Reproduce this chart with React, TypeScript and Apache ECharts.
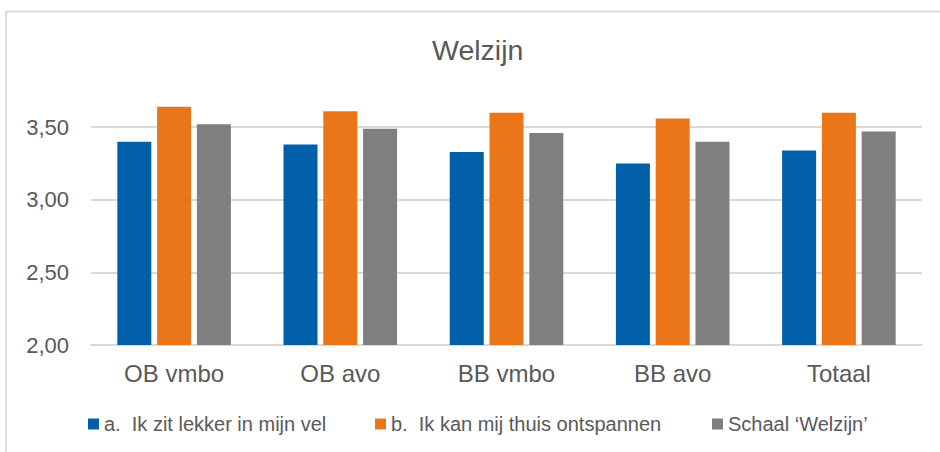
import React, { useEffect, useRef } from "react";
import * as echarts from "echarts";

const categories = ["OB vmbo", "OB avo", "BB vmbo", "BB avo", "Totaal"];
const seriesNames = [
  "a.  Ik zit lekker in mijn vel",
  "b.  Ik kan mij thuis ontspannen",
  "Schaal \u2018Welzijn\u2019",
];
const valuesA = [3.4, 3.38, 3.33, 3.25, 3.34];
const valuesB = [3.64, 3.61, 3.6, 3.56, 3.6];
const valuesC = [3.52, 3.49, 3.46, 3.4, 3.47];
const colors = ["#005FA8", "#EA7619", "#7F7F7F"];
const legendLefts = [88, 375, 712];

const FONT = "'Liberation Sans', Arial, sans-serif";
const TXT = "#595959";

export default function App() {
  const ref = useRef<HTMLDivElement>(null);
  useEffect(() => {
    if (!ref.current) return;
    const chart = echarts.init(ref.current, undefined, { renderer: "svg" });
    const data = [valuesA, valuesB, valuesC];
    chart.setOption({
      animation: false,
      backgroundColor: "#ffffff",
      textStyle: { fontFamily: FONT },
      title: {
        text: "Welzijn",
        left: 432,
        top: 35,
        padding: 0,
        textStyle: { fontFamily: FONT, fontSize: 28.5, fontWeight: "normal", color: TXT },
      },
      graphic: [
        {
          type: "rect",
          shape: { x: 6, y: 11.5, width: 1200, height: 1000 },
          style: { fill: "none", stroke: "#d9d9d9", lineWidth: 1.8 },
          silent: true,
          z: -1,
        },
      ],
      legend: seriesNames.map((n, i) => ({
        data: [n],
        left: legendLefts[i],
        top: 414,
        padding: 0,
        itemWidth: 11,
        itemHeight: 11,
        itemGap: 0,
        icon: "rect",
        textStyle: { fontFamily: FONT, fontSize: 20, color: TXT, lineHeight: 20 },
        selectedMode: false,
      })),
      grid: { left: 91, right: 18, top: 54.6, bottom: 107, containLabel: false },
      xAxis: {
        type: "category",
        data: categories,
        axisTick: { show: false },
        axisLine: { lineStyle: { color: "#d9d9d9", width: 1.8 } },
        axisLabel: { fontFamily: FONT, fontSize: 24, color: TXT, margin: 16 },
      },
      yAxis: {
        type: "value",
        min: 2,
        max: 4,
        interval: 0.5,
        axisLine: { show: false },
        axisTick: { show: false },
        axisLabel: {
          fontFamily: FONT,
          fontSize: 22,
          color: TXT,
          margin: 22,
          showMaxLabel: false,
          formatter: (v: number) => v.toFixed(2).replace(".", ","),
        },
        splitLine: {
          show: true,
          showMinLine: false,
          showMaxLine: false,
          lineStyle: { color: "#d9d9d9", width: 1.8 },
        },
      },
      series: seriesNames.map((n, i) => ({
        name: n,
        type: "bar",
        data: data[i],
        barWidth: 34,
        barGap: "17%",
        itemStyle: { color: colors[i] },
      })),
    });
    return () => chart.dispose();
  }, []);
  return (
    <div
      ref={ref}
      style={{ position: "fixed", left: 0, top: 0, width: 940, height: 452 }}
    />
  );
}
